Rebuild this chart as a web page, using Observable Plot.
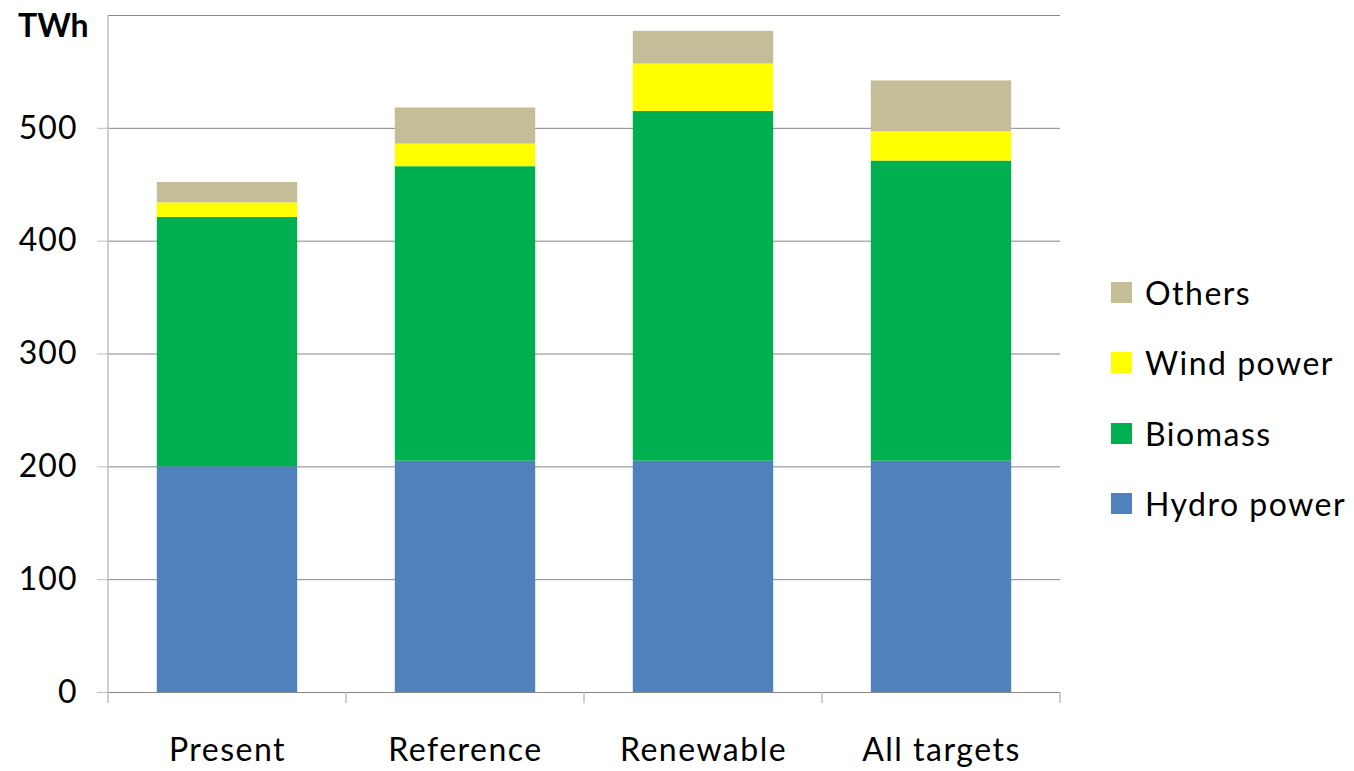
<!DOCTYPE html>
<html>
<head>
<meta charset="utf-8">
<script src="https://cdn.jsdelivr.net/npm/d3@7"></script>
<script src="https://cdn.jsdelivr.net/npm/@observablehq/plot@0.6"></script>
<style>
  body { margin: 0; background: #fff; }
  #wrap { position: relative; width: 1354px; height: 771px; font-family: Lato, "Open Sans", sans-serif; }
  #unit { position: absolute; left: 18px; top: 5px; font-size: 32px; font-weight: bold; color: #000; }
  #legend { position: absolute; left: 1111px; top: 257px; }
  .li { display: flex; align-items: center; height: 70.5px; font-size: 32px; letter-spacing: 1.5px; color: #000; }
  .sw { width: 21px; height: 21px; margin-right: 13px; }
</style>
</head>
<body>
<div id="wrap">
  <div id="chart"></div>
  <div id="unit">TWh</div>
  <div id="legend"></div>
</div>
<script>
const scenarios = ["Present", "Reference", "Renewable", "All targets"];
const sources = ["Hydro power", "Biomass", "Wind power", "Others"];
const colors = ["#4f81bd", "#00b050", "#ffff00", "#c4bd97"];
const hydro = [200, 205, 205, 205];
const biomass = [221, 261, 310, 266];
const wind = [13, 20, 42, 26];
const others = [18, 32, 29, 45];
const yTicks = [0, 100, 200, 300, 400, 500];
const yGrid = [0, 100, 200, 300, 400, 500, 600];

const series = [hydro, biomass, wind, others];
const data = [];
scenarios.forEach((s, i) => sources.forEach((src, j) => data.push({scenario: s, source: src, value: series[j][i]})));

const plot = Plot.plot({
  width: 1354,
  height: 771,
  marginLeft: 108,
  marginRight: 294,
  marginTop: 15,
  marginBottom: 79,
  style: {fontFamily: "Lato, 'Open Sans', sans-serif", background: "#fff"},
  x: {domain: scenarios, paddingInner: 0.41, paddingOuter: 0.205, round: false, label: null},
  y: {domain: [0, 600], label: null},
  color: {domain: sources, range: colors},
  marks: [
    Plot.gridY(yGrid, {stroke: "#868686", strokeOpacity: 1, strokeWidth: 1}),
    Plot.barY(data, Plot.stackY({x: "scenario", y: "value", fill: "source", order: sources})),
    Plot.axisY(yTicks, {tickSize: 11, stroke: "#bfbfbf", tickPadding: 20, fontSize: 32, fill: "#000", label: null}),
    Plot.axisX({tickSize: 0, tickPadding: 46, fontSize: 32, fill: "#000", label: null})
  ]
});
d3.select(plot).selectAll("g[aria-label='x-axis tick label'] text").style("letter-spacing", "1.5px");
d3.select(plot).selectAll("g[aria-label='y-axis tick label'] text").style("letter-spacing", "1px");
document.getElementById("chart").appendChild(plot);

// axis line & category separators derived from scales
const xs = plot.scale("x"), ys = plot.scale("y");
const svg = d3.select(plot);
const y0 = ys.apply(0), yTop = ys.apply(600);
const left = xs.range[0];
const g = svg.append("g").attr("stroke", "#bfbfbf").attr("stroke-width", 1.5);
g.append("line").attr("x1", left).attr("x2", left).attr("y1", yTop).attr("y2", y0 + 11);
scenarios.forEach((s, i) => {
  const xr = xs.apply(s) + xs.bandwidth + (xs.step - xs.bandwidth) / 2;
  g.append("line").attr("x1", xr).attr("x2", xr).attr("y1", y0).attr("y2", y0 + 11);
});

const legend = d3.select("#legend");
sources.slice().reverse().forEach(src => {
  const row = legend.append("div").attr("class", "li");
  row.append("div").attr("class", "sw").style("background", colors[sources.indexOf(src)]);
  row.append("span").text(src);
});
</script>
</body>
</html>
